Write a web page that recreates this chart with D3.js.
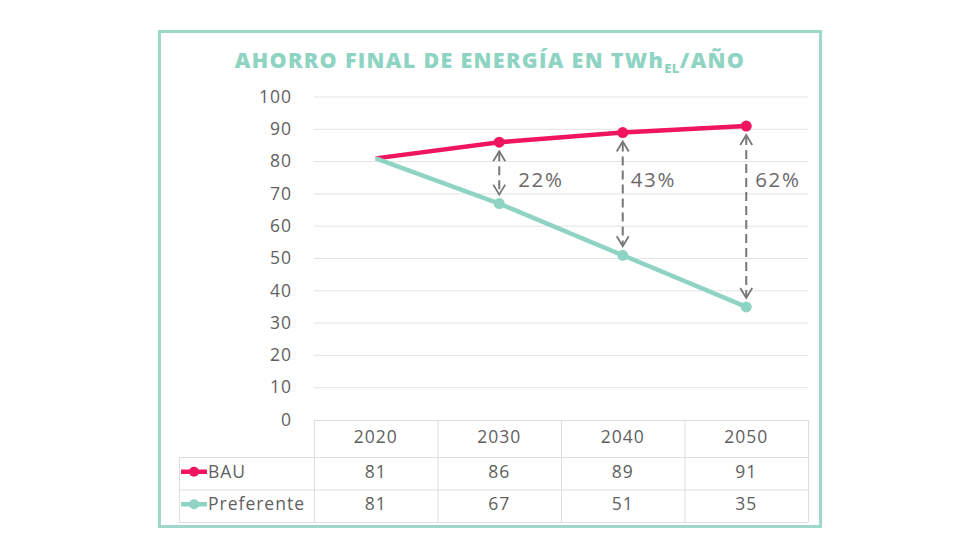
<!DOCTYPE html>
<html><head><meta charset="utf-8">
<script src="https://cdn.jsdelivr.net/npm/d3@7"></script>
<style>body{margin:0;background:#fff;} svg{display:block;}</style>
</head><body>
<script>
const categories = ["2020","2030","2040","2050"];
const bauValues = [81, 86, 89, 91];
const prefValues = [81, 67, 51, 35];
const gapLabels = ["", "22%", "43%", "62%"];
const yTicks = [0,10,20,30,40,50,60,70,80,90,100];
const seriesNames = ["BAU", "Preferente"];

(function(){
const W = 980, H = 560;
const pink = "#f0155e", teal = "#8fd4c3", grey = "#5f5f5f", grid = "#e3e3e3";
const font = "'Open Sans', sans-serif";
const fs = 17.5, ls = 1;
const labelOffsets = [0, 19, 8, 9];

const svg = d3.select("body").append("svg").attr("width", W).attr("height", H);

svg.append("rect").attr("x", 159.5).attr("y", 31.5).attr("width", 661).attr("height", 495)
  .attr("fill", "none").attr("stroke", "#9dd8c9").attr("stroke-width", 3);

const title = svg.append("text").attr("x", 490).attr("y", 67.5).attr("text-anchor", "middle")
  .attr("font-family", font).attr("font-weight", 800).attr("font-size", 21.5).attr("fill", teal)
  .attr("letter-spacing", 1.3);
title.append("tspan").text("AHORRO FINAL DE ENERGÍA EN TWh");
title.append("tspan").attr("font-size", 13).attr("dy", 5).attr("letter-spacing", 0.5).text("EL");
title.append("tspan").attr("dy", -5).text("/AÑO");

const pLeft = 314, pRight = 808, pTop = 97, pBottom = 420;
const x = d3.scaleBand().domain(categories).range([pLeft, pRight]);
const y = d3.scaleLinear().domain([0, 100]).range([pBottom, pTop]);

svg.append("g").selectAll("line").data(yTicks.filter(d => d > 0)).join("line")
  .attr("x1", pLeft).attr("x2", pRight).attr("y1", d => y(d)).attr("y2", d => y(d))
  .attr("stroke", grid).attr("stroke-width", 1);

const yAxis = svg.append("g").attr("transform", `translate(${pLeft},0)`)
  .call(d3.axisLeft(y).tickValues(yTicks).tickSize(0).tickPadding(22));
yAxis.select(".domain").remove();
yAxis.selectAll("text").attr("font-family", font).attr("font-size", fs).attr("fill", grey)
  .attr("letter-spacing", ls).attr("dy", "0.3em");

const cx = d => x(d) + x.bandwidth() / 2;

const line = d3.line().x((d, i) => cx(categories[i])).y(d => y(d));
svg.append("path").datum(bauValues).attr("d", line).attr("fill", "none")
  .attr("stroke", pink).attr("stroke-width", 4.5).attr("stroke-linejoin", "round");
svg.append("path").datum(prefValues).attr("d", line).attr("fill", "none")
  .attr("stroke", teal).attr("stroke-width", 4.5).attr("stroke-linejoin", "round");

svg.append("g").selectAll("circle").data(bauValues.slice(1)).join("circle")
  .attr("cx", (d, i) => cx(categories[i + 1])).attr("cy", d => y(d)).attr("r", 5.5).attr("fill", pink);
svg.append("g").selectAll("circle").data(prefValues.slice(1)).join("circle")
  .attr("cx", (d, i) => cx(categories[i + 1])).attr("cy", d => y(d)).attr("r", 5.5).attr("fill", teal);

const arrows = svg.append("g");
categories.forEach((c, i) => {
  if (!gapLabels[i]) return;
  const xx = cx(c);
  const y1 = y(bauValues[i]) + 9, y2 = y(prefValues[i]) - 9;
  arrows.append("line").attr("x1", xx).attr("x2", xx).attr("y1", y1 + 1).attr("y2", y2 - 1)
    .attr("stroke", "#777").attr("stroke-width", 2).attr("stroke-dasharray", "9,5");
  arrows.append("path").attr("d", `M${xx-6},${y1+10}L${xx},${y1}L${xx+6},${y1+10}`)
    .attr("fill", "none").attr("stroke", "#777").attr("stroke-width", 1.8);
  arrows.append("path").attr("d", `M${xx-6},${y2-10}L${xx},${y2}L${xx+6},${y2-10}`)
    .attr("fill", "none").attr("stroke", "#777").attr("stroke-width", 1.8);
  arrows.append("text").attr("x", xx + labelOffsets[i]).attr("y", 187).attr("font-family", font)
    .attr("font-size", 20.5).attr("letter-spacing", 1.6).attr("fill", "#6a6a6a").text(gapLabels[i]);
});

const rowTop = 420, rowH1 = 37, rowH = 32.5, tableLeft = 179;
const rows = [bauValues, prefValues];
const rowY = [rowTop + rowH1, rowTop + rowH1 + rowH, rowTop + rowH1 + 2 * rowH];
const tg = svg.append("g").attr("stroke", "#dedede").attr("stroke-width", 1);
tg.append("line").attr("x1", pLeft).attr("x2", pRight).attr("y1", rowTop + .5).attr("y2", rowTop + .5);
rowY.forEach(yy => tg.append("line").attr("x1", tableLeft).attr("x2", pRight).attr("y1", yy + .5).attr("y2", yy + .5));
[...categories.map(c => x(c)), pRight].forEach(xx =>
  tg.append("line").attr("x1", xx + .5).attr("x2", xx + .5).attr("y1", rowTop).attr("y2", rowY[2]));
tg.append("line").attr("x1", tableLeft + .5).attr("x2", tableLeft + .5).attr("y1", rowY[0]).attr("y2", rowY[2]);

svg.append("g").selectAll("text").data(categories).join("text")
  .attr("x", d => cx(d)).attr("y", rowTop + rowH1 / 2 + 4.7).attr("text-anchor", "middle")
  .attr("font-family", font).attr("font-size", fs).attr("letter-spacing", ls).attr("fill", grey).text(d => d);

rows.forEach((vals, r) => {
  const ym = rowY[r] + rowH / 2;
  svg.append("g").selectAll("text").data(vals).join("text")
    .attr("x", (d, i) => cx(categories[i])).attr("y", ym + 4.7).attr("text-anchor", "middle")
    .attr("font-family", font).attr("font-size", fs).attr("letter-spacing", ls).attr("fill", grey).text(d => d);
  const col = r === 0 ? pink : teal;
  svg.append("line").attr("x1", 181).attr("x2", 207).attr("y1", ym - 1.5).attr("y2", ym - 1.5)
    .attr("stroke", col).attr("stroke-width", 4.5);
  svg.append("circle").attr("cx", 194).attr("cy", ym - 1.5).attr("r", 5).attr("fill", col);
  svg.append("text").attr("x", 208).attr("y", ym + 4.7).attr("font-family", font)
    .attr("font-size", fs).attr("letter-spacing", ls).attr("fill", grey).text(seriesNames[r]);
});
})();
</script>
</body></html>
